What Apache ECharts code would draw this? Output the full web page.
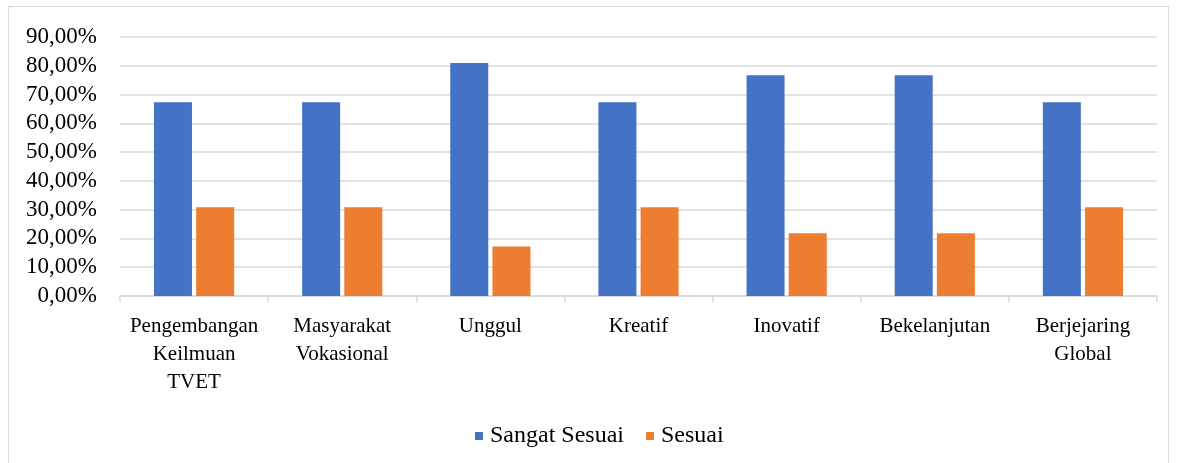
<!DOCTYPE html>
<html>
<head>
<meta charset="utf-8">
<script src="https://cdn.jsdelivr.net/npm/echarts@6/dist/echarts.min.js"></script>
<style>
  html, body { margin: 0; padding: 0; background: #fff; }
  #chart { width: 1177px; height: 463px; }
</style>
</head>
<body>
<div id="chart"></div>
<script>
var categories = ['Pengembangan\nKeilmuan\nTVET', 'Masyarakat\nVokasional', 'Unggul', 'Kreatif', 'Inovatif', 'Bekelanjutan', 'Berjejaring\nGlobal'];
var sangatSesuai = [67.3, 67.3, 81.0, 67.3, 76.7, 76.7, 67.3];
var sesuai = [30.8, 30.8, 17.2, 30.8, 21.8, 21.8, 30.8];
var seriesNames = ['Sangat Sesuai', 'Sesuai'];

var font = '"Liberation Serif", "Times New Roman", serif';
var chart = echarts.init(document.getElementById('chart'), null, { renderer: 'canvas' });

var option = {
  backgroundColor: '#ffffff',
  animation: false,
  color: ['#4472C4', '#ED7D31'],
  graphic: [{
    type: 'rect',
    shape: { x: 8.5, y: 6.5, width: 1160, height: 470 },
    style: { fill: 'none', stroke: '#d9d9d9', lineWidth: 1 },
    silent: true
  }],
  grid: { left: 120, right: 20, top: 37, bottom: 167, containLabel: false },
  legend: {
    left: 470,
    top: 419,
    itemWidth: 8,
    itemHeight: 8,
    itemGap: 22,
    icon: 'rect',
    textStyle: { fontFamily: font, fontSize: 24, color: '#000', padding: [0, 0, 0, 2] },
    data: seriesNames
  },
  xAxis: {
    type: 'category',
    data: categories,
    axisLine: { lineStyle: { color: '#d9d9d9', width: 1.5 } },
    axisTick: { show: true, length: 6, lineStyle: { color: '#d9d9d9', width: 1.5 } },
    axisLabel: { fontFamily: font, fontSize: 21, color: '#000', lineHeight: 28, margin: 16, interval: 0 }
  },
  yAxis: {
    type: 'value',
    min: 0,
    max: 90,
    interval: 10,
    axisLine: { show: false },
    axisTick: { show: false },
    axisLabel: {
      fontFamily: font, fontSize: 23, color: '#000', margin: 23,
      formatter: function (v) { return v.toFixed(2).replace('.', ',') + '%'; }
    },
    splitLine: { lineStyle: { color: '#d9d9d9', width: 1.5 } }
  },
  series: [{
    name: seriesNames[0],
    type: 'bar',
    data: sangatSesuai,
    barWidth: 38,
    barGap: '11%'
  }, {
    name: seriesNames[1],
    type: 'bar',
    data: sesuai,
    barWidth: 38,
    barGap: '11%'
  }]
};

chart.setOption(option);
</script>
</body>
</html>
